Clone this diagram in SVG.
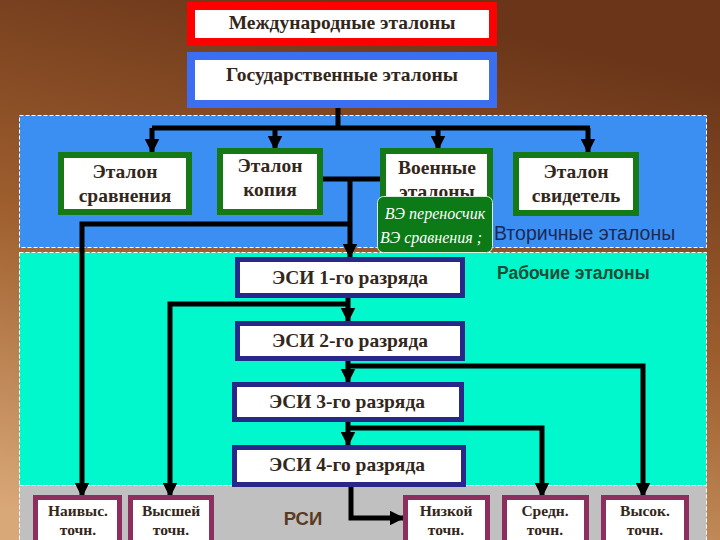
<svg xmlns="http://www.w3.org/2000/svg" width="720" height="540" viewBox="0 0 720 540">
<defs>
<linearGradient id="bg" x1="0.5" y1="0" x2="0.2" y2="1">
<stop offset="0" stop-color="#6a3519"/>
<stop offset="0.5" stop-color="#a0602f"/>
<stop offset="1" stop-color="#d9a878"/>
</linearGradient>
<marker id="ah" viewBox="0 0 10 10" refX="9" refY="5" markerWidth="3" markerHeight="3" orient="auto" markerUnits="strokeWidth">
<path d="M0,0 L10,5 L0,10 z" fill="#000"/>
</marker>
<style>
.t{font-family:"Liberation Serif","Times New Roman",serif;font-weight:bold;fill:#33261a;text-anchor:middle}
.s{font-size:19.5px}
.b{font-size:15.5px}
.g{fill:#fff;stroke:#157a15;stroke-width:6}
.e{fill:#fff;stroke:#28288a;stroke-width:5}
.m{fill:#fff;stroke:#8c2f5e;stroke-width:5}
.c{fill:none;stroke:#000;stroke-width:5;stroke-linejoin:miter}
.a{marker-end:url(#ah)}
.panel{stroke:#fff;stroke-width:1;stroke-dasharray:4 2}
.lab{font-family:"Liberation Sans",Arial,sans-serif}
.ve{font-family:"Liberation Serif",serif;font-style:italic;font-size:16px;fill:#fff;text-anchor:middle}
</style>
</defs>
<rect x="0" y="0" width="720" height="540" fill="url(#bg)"/>
<rect class="panel" x="19.5" y="115.5" width="687" height="132" fill="#3b8ef2"/>
<rect class="panel" x="19.5" y="252.5" width="687" height="233" fill="#00f8cc"/>
<rect class="panel" x="19.5" y="485.5" width="687" height="60" fill="#c0c0c0"/>

<g id="connectors">
<polyline class="c" points="338,108 338,128"/>
<polyline class="c" points="152,128 590,128"/>
<line class="c a" x1="152" y1="128" x2="152" y2="152"/>
<line class="c a" x1="275" y1="128" x2="275" y2="149"/>
<line class="c a" x1="438" y1="128" x2="438" y2="149"/>
<polyline class="c a" points="588,128 588,152"/>
<polyline class="c" points="322,179 381,179"/>
<polyline class="c a" points="350,179 350,257"/>
<polyline class="c a" points="350,224 82,224 82,496"/>
<line class="c a" x1="348" y1="297" x2="348" y2="321"/>
<polyline class="c a" points="348,304 170,304 170,496"/>
<line class="c a" x1="348" y1="360" x2="348" y2="382"/>
<polyline class="c a" points="348,366 643,366 643,496"/>
<line class="c a" x1="348" y1="422" x2="348" y2="445"/>
<polyline class="c a" points="348,428 542,428 542,496"/>
<polyline class="c a" points="351,487 351,518 403,518"/>
</g>

<g id="intl">
<rect x="191" y="6" width="302" height="36" fill="#fff" stroke="#f00" stroke-width="8"/>
<text class="t s" x="342" y="29">Международные эталоны</text>
</g>
<g id="state">
<rect x="191" y="56" width="302" height="48" fill="#fff" stroke="#3b6ef0" stroke-width="8"/>
<text class="t s" x="342" y="81">Государственные эталоны</text>
</g>

<g id="sravn">
<rect class="g" x="61" y="155" width="128" height="57"/>
<text class="t s" x="125" y="178">Эталон</text>
<text class="t s" x="125" y="202">сравнения</text>
</g>
<g id="kopiya">
<rect class="g" x="220" y="151" width="100" height="61"/>
<text class="t s" x="270" y="172">Эталон</text>
<text class="t s" x="270" y="196">копия</text>
</g>
<g id="voennye">
<rect class="g" x="383" y="151" width="107" height="62"/>
<text class="t s" x="437" y="174">Военные</text>
<text class="t s" x="437" y="198">эталоны</text>
</g>
<g id="svidetel">
<rect class="g" x="516" y="155" width="120" height="58"/>
<text class="t s" x="576" y="178">Эталон</text>
<text class="t s" x="576" y="202">свидетель</text>
</g>
<g id="ve">
<rect x="377.5" y="196.5" width="115" height="56" rx="6" fill="#0c7a16" stroke="#d8f0d8" stroke-width="1"/>
<text class="ve" x="435" y="219">ВЭ переносчик</text>
<text class="ve" x="431" y="243">ВЭ сравнения ;</text>
</g>
<text class="lab" x="494" y="240" font-size="19.5" fill="#1c2a52">Вторичные эталоны</text>
<text class="lab" x="497" y="279" fill="#1e4a36" font-weight="bold" font-size="17.5">Рабочие эталоны</text>

<g id="esi1">
<rect class="e" x="237.5" y="259.5" width="225" height="36"/>
<text class="t s" x="350" y="284">ЭСИ 1-го разряда</text>
</g>
<g id="esi2">
<rect class="e" x="237.5" y="323.5" width="225" height="35"/>
<text class="t s" x="350" y="347">ЭСИ 2-го разряда</text>
</g>
<g id="esi3">
<rect class="e" x="234.5" y="384.5" width="227" height="35"/>
<text class="t s" x="347" y="408">ЭСИ 3-го разряда</text>
</g>
<g id="esi4">
<rect class="e" x="234.5" y="447.5" width="229" height="37"/>
<text class="t s" x="347" y="471">ЭСИ 4-го разряда</text>
</g>

<g id="naivys">
<rect class="m" x="35.5" y="497.5" width="84" height="50"/>
<text class="t b" x="78" y="516">Наивыс.</text>
<text class="t b" x="78" y="535">точн.</text>
</g>
<g id="vysshey">
<rect class="m" x="130.5" y="497.5" width="81" height="50"/>
<text class="t b" x="171" y="516">Высшей</text>
<text class="t b" x="171" y="535">точн.</text>
</g>
<text x="303" y="525" font-family="'Liberation Sans',Arial,sans-serif" font-weight="bold" font-size="18.5" fill="#5a3a1e" text-anchor="middle">РСИ</text>
<g id="nizkoy">
<rect class="m" x="405.5" y="497.5" width="82" height="50"/>
<text class="t b" x="446" y="516">Низкой</text>
<text class="t b" x="446" y="535">точн.</text>
</g>
<g id="sredn">
<rect class="m" x="504.5" y="497.5" width="82" height="50"/>
<text class="t b" x="545" y="516">Средн.</text>
<text class="t b" x="545" y="535">точн.</text>
</g>
<g id="vysok">
<rect class="m" x="603.5" y="497.5" width="83" height="50"/>
<text class="t b" x="645" y="516">Высок.</text>
<text class="t b" x="645" y="535">точн.</text>
</g>
</svg>
